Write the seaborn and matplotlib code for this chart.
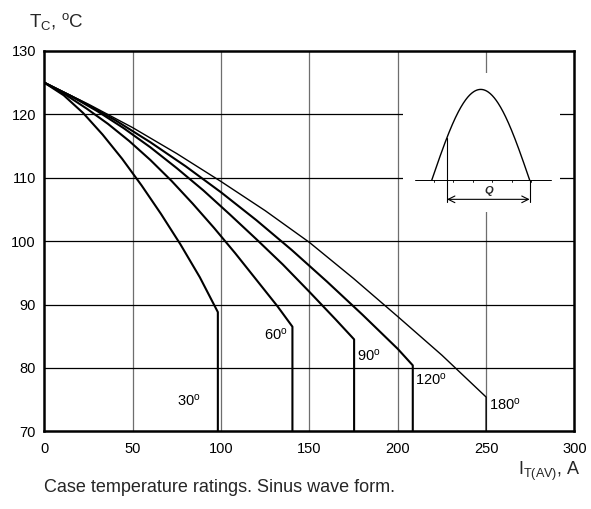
import numpy as np
import pandas as pd
import matplotlib
matplotlib.use("Agg")
import matplotlib.pyplot as plt
import seaborn as sns

# ---- data (curve, then vertical drop to 70 °C) ----
angles = ["30", "60", "90", "120", "180"]
i_30 = [0, 11, 22, 33, 44, 55, 66, 77, 88, 98.2, 98.2]
t_30 = [125, 123.0, 120.2, 116.8, 113.0, 108.8, 104.3, 99.5, 94.3, 88.8, 70]
i_60 = [0, 12, 24, 36, 48, 60, 72, 84, 96, 108, 120, 132, 140.4, 140.4]
t_60 = [125, 123.1, 120.9, 118.5, 115.8, 112.8, 109.5, 105.9, 102.1, 98.1, 93.9, 89.7, 86.5, 70]
i_90 = [0, 15, 30, 45, 60, 75, 90, 105, 120, 135, 150, 165, 175.3, 175.3]
t_90 = [125, 122.9, 120.5, 117.8, 114.8, 111.5, 108.0, 104.2, 100.3, 96.3, 92.0, 87.6, 84.5, 70]
i_120 = [0, 20, 40, 60, 80, 100, 120, 140, 160, 180, 200, 208.5, 208.5]
t_120 = [125, 122.2, 119.1, 115.6, 111.8, 107.7, 103.3, 98.6, 93.6, 88.4, 83.0, 80.4, 70]
i_180 = [0, 25, 50, 75, 100, 125, 150, 175, 200, 225, 250, 250]
t_180 = [125, 121.6, 117.9, 113.8, 109.4, 104.8, 99.8, 94.1, 88.1, 82.0, 75.4, 70]
label_x = [75.3, 124.4, 177, 209.6, 251.5]
label_y = [74.8, 85.2, 81.9, 78.1, 74.2]
x_ticks = [0, 50, 100, 150, 200, 250, 300]
y_ticks = [70, 80, 90, 100, 110, 120, 130]

series = {"30": (i_30, t_30), "60": (i_60, t_60), "90": (i_90, t_90),
          "120": (i_120, t_120), "180": (i_180, t_180)}

sns.set_theme(style="white")
plt.rcParams["font.family"] = ["Liberation Sans", "DejaVu Sans"]
plt.rcParams["mathtext.fontset"] = "custom"
plt.rcParams["mathtext.rm"] = "Liberation Sans"
plt.rcParams["mathtext.it"] = "Liberation Sans:italic"
plt.rcParams["mathtext.bf"] = "Liberation Sans:bold"

fig = plt.figure(figsize=(5.91, 5.09), dpi=100)
ax = fig.add_axes([0.07496, 0.15265, 0.8971, 0.7473])

for ang in angles:
    xs, ys = series[ang]
    df = pd.DataFrame({"I": xs, "T": ys})
    lw = 1.0 if ang == "180" else 1.5
    sns.lineplot(data=df, x="I", y="T", sort=False, estimator=None,
                 color="black", lw=lw, ax=ax, zorder=3)

for ang, lx, ly in zip(angles, label_x, label_y):
    ax.text(lx, ly, ang + r"$^{\mathrm{o}}$", ha="left", va="center",
            fontsize=10.5, color="black", zorder=4)

ax.set_xlim(0, 300)
ax.set_ylim(70, 130)
ax.set_xticks(x_ticks)
ax.set_yticks(y_ticks)
ax.set_xlabel("")
ax.set_ylabel("")
for xv in x_ticks[1:-1]:
    ax.axvline(xv, color="#6e6e6e", lw=0.9, zorder=1)
for yv in y_ticks[1:-1]:
    ax.axhline(yv, color="black", lw=0.9, zorder=1)
ax.tick_params(axis="both", length=0, labelsize=10.5, colors="black")
ax.tick_params(axis="x", pad=8)
ax.tick_params(axis="y", pad=6)
for sp in ax.spines.values():
    sp.set_visible(True)
    sp.set_color("black")
    sp.set_linewidth(1.8)

# inset: schematic of the sinus half-wave with conduction angle Q
ins = ax.inset_axes([0.6765, 0.5765, 0.296, 0.365], zorder=2)
ins.set_xlim(203.7, 291.4)
ins.set_ylim(104.6, 126.5)
ins.set_facecolor("white")
for sp in ins.spines.values():
    sp.set_visible(False)
ins.set_xticks([])
ins.set_yticks([])
ins.grid(False)
x0, x1, base, amp = 219.8, 274.5, 109.64, 14.3
ph = np.linspace(0, np.pi, 200)
ins.plot(x0 + (x1 - x0) * ph / np.pi, base + amp * np.sin(ph), color="black", lw=1.0)
ins.plot([210.4, 286.7], [base, base], color="black", lw=0.7)
for tx in np.linspace(220.8, 275.4, 6):
    ins.plot([tx, tx], [base, base - 0.35], color="black", lw=0.6)
xc = 228.3
yc = base + amp * np.sin(np.pi * (xc - x0) / (x1 - x0))
ins.plot([xc, xc], [106.2, yc], color="black", lw=0.8)
ins.plot([x1, x1], [106.2, base], color="black", lw=0.8)
ins.annotate("", xy=(x1, 106.6), xytext=(xc, 106.6),
             arrowprops=dict(arrowstyle="<->", color="black", lw=0.8,
                             shrinkA=0, shrinkB=0, mutation_scale=12))
ins.text(251.9, 107.9, "Q", ha="center", va="center", fontsize=8,
         fontweight="bold", fontstyle="italic")

fig.text(29 / 591, 1 - 26.7 / 509, r"T$_{\mathrm{C}}$, $^{\mathrm{o}}$C",
         fontsize=13.5, ha="left", va="baseline")
fig.text(518 / 591, 1 - 475 / 509, r"I$_{\mathrm{T(AV)}}$, A",
         fontsize=13, ha="left", va="baseline")
fig.text(44 / 591, 1 - 488 / 509, "Case temperature ratings. Sinus wave form.",
         fontsize=13, ha="left", va="center")

fig.savefig("out.png", dpi=100, facecolor="white")
